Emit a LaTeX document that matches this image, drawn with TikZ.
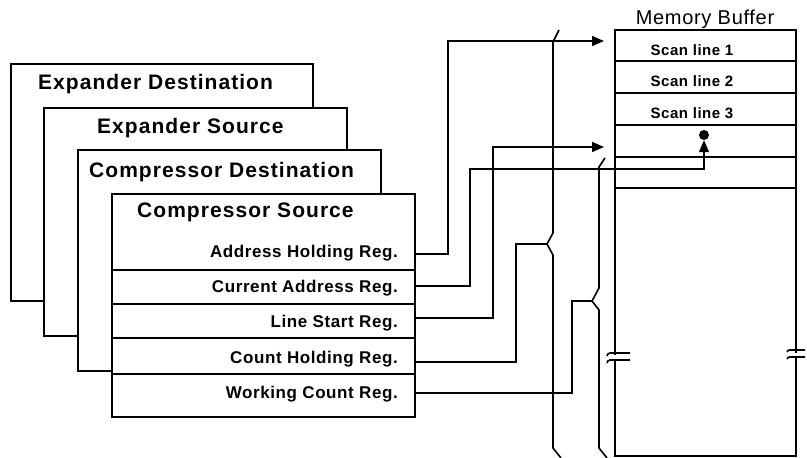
\documentclass[tikz,border=0pt]{standalone}
\usepackage{fontspec}
\setmainfont{Liberation Sans}
\newfontfamily\trackfont[LetterSpace=3.5]{Liberation Sans}
\newfontfamily\widefont[LetterSpace=5]{Liberation Sans}
\usetikzlibrary{arrows.meta}
\tikzset{
  regbox/.style={draw, line width=2.1pt, fill=white, anchor=north west, inner sep=0pt},
  ttl/.style={anchor=base west, inner sep=0pt, font=\widefont\bfseries\fontsize{21}{25}\selectfont},
  reg/.style={anchor=base east, inner sep=0pt, font=\trackfont\bfseries\fontsize{17}{20}\selectfont},
  scan/.style={anchor=base, inner sep=0pt, font=\trackfont\bfseries\fontsize{15}{18}\selectfont},
  rowline/.style={line width=2.1pt},
  wire/.style={line width=1.6pt},
  feed/.style={-{Triangle[length=12pt,width=10pt]}},
}
\begin{document}
\begin{tikzpicture}[x=1pt,y=-1pt]
\useasboundingbox (0,0) rectangle (807,458);
\node[regbox, minimum width=302pt, minimum height=237pt] (edbox) at (10,63) {};
\node[ttl] (edlbl) at (38,89) {Expander Destination};
\node[regbox, minimum width=303pt, minimum height=228pt] (esbox) at (43,107) {};
\node[ttl] (eslbl) at (97,133) {Expander Source};
\node[regbox, minimum width=303pt, minimum height=221pt] (cdbox) at (77,149) {};
\node[ttl] (cdlbl) at (89,177) {Compressor Destination};
\node[regbox, minimum width=303pt, minimum height=223pt] (csbox) at (111,193) {};
\node[ttl] (cslbl) at (137,217) {Compressor Source};
\foreach \y in {270,304,338,374} \draw[rowline] (111,\y) -- (414,\y);
\node[reg] (ahr) at (398,257) {Address Holding Reg.};
\node[reg] (car) at (398,292) {Current Address Reg.};
\node[reg] (lsr) at (398,327) {Line Start Reg.};
\node[reg] (chr) at (398,363) {Count Holding Reg.};
\node[reg] (wcr) at (398,398) {Working Count Reg.};

\node[anchor=base, inner sep=0pt, font=\trackfont\fontsize{20}{24}\selectfont] (mbt) at (705,24) {Memory Buffer};
\node[regbox, line width=2.3pt, fill=none, minimum width=181pt, minimum height=426pt] (mb) at (614,29) {};
\foreach \y in {61,93,125,157,188} \draw[rowline] (614,\y) -- (795,\y);
\node[scan] (sl1) at (692,55) {Scan line 1};
\node[scan] (sl2) at (692,86) {Scan line 2};
\node[scan] (sl3) at (692,118) {Scan line 3};
\node[circle, fill, inner sep=0pt, minimum size=10pt] (kp) at (704,135) {};

\fill[white] (609,355) rectangle (619,360);
\draw[wire] (607,356) to[out=80,in=180] (610,353) -- (630,353);
\draw[wire] (607,363) to[out=80,in=180] (610,360) -- (630,360);
\fill[white] (790,353) rectangle (800,357);
\draw[wire] (787,352) to[out=80,in=180] (790,350) -- (805,350);
\draw[wire] (787,359) to[out=80,in=180] (790,357) -- (805,357);

\coordinate (m1) at (604,41);
\coordinate (m2) at (604,147);
\coordinate (kb) at (704,169);
\coordinate (bt1) at (547,244);
\coordinate (bt2) at (592,301);
\draw[wire] (559,30) -- (553,42) -- (553,233) -- (bt1) -- (553,255) -- (553,448) -- (561,458);
\draw[wire] (605,158) -- (599,167) -- (599,288) -- (bt2) -- (599,310) -- (599,448) -- (607,458);

\draw[wire, feed] (csbox.east |- 0,254) -- (448,254) |- (m1);
\draw[wire, feed] (csbox.east |- 0,286) -- (470,286) |- (kb) -- (kp);
\draw[wire, feed] (csbox.east |- 0,318) -- (493,318) |- (m2);
\draw[wire] (csbox.east |- 0,362) -- (516,362) |- (bt1);
\draw[wire] (csbox.east |- 0,393) -- (572,393) |- (bt2);
\end{tikzpicture}
\end{document}
